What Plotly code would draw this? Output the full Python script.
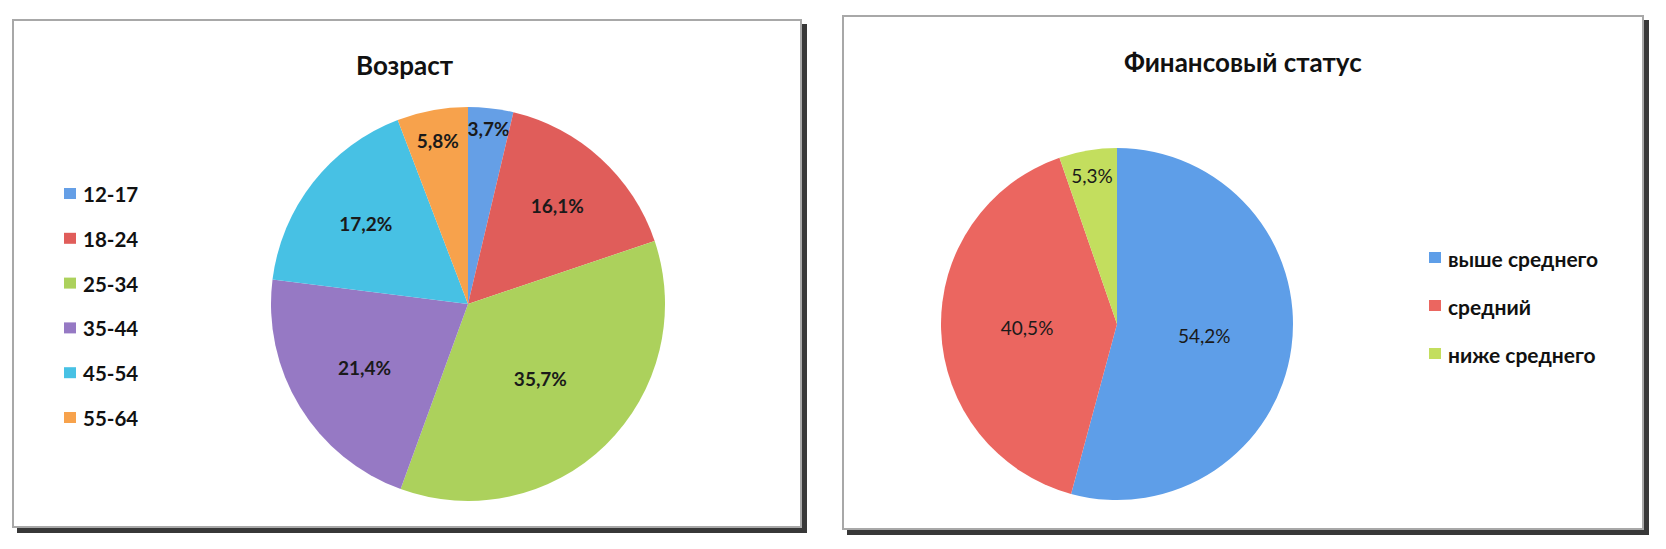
import plotly.graph_objects as go

W, H = 1666, 549
OFF = 8  # page body margin of the exported html
FW, FH = W - 2 * OFF, H - 2 * OFF

# ---------------- data ----------------
age_title = "Возраст"
age_labels = ["12-17", "18-24", "25-34", "35-44", "45-54", "55-64"]
age_values = [3.7, 16.1, 35.7, 21.4, 17.2, 5.8]
age_colors = ["#659fe6", "#e05d5a", "#acd15c", "#9679c4", "#47c1e4", "#f7a24c"]

fin_title = "Финансовый статус"
fin_labels = ["выше среднего", "средний", "ниже среднего"]
fin_values = [54.2, 40.5, 5.3]
fin_colors = ["#5e9ee8", "#eb6660", "#c3de5e"]

FONT = "Lato, 'Open Sans', sans-serif"


def px(x):
    return (x - OFF) / FW


def py(y):
    return 1 - (y - OFF) / FH


def pie_domain(cx, cy, r):
    return dict(x=[px(cx - r), px(cx + r)], y=[py(cy + r), py(cy - r)])


fig = go.Figure()

fig.add_trace(go.Pie(
    labels=age_labels, values=age_values, sort=False, direction="clockwise",
    rotation=0, marker=dict(colors=age_colors, line=dict(width=0)),
    texttemplate="%{value:.1f}%", textposition="inside",
    insidetextorientation="horizontal",
    textfont=dict(family=FONT, size=19, color="#1a1a1a", weight="bold"),
    domain=pie_domain(468, 304, 197), showlegend=False, hoverinfo="label+value",
))

fig.add_trace(go.Pie(
    labels=fin_labels, values=fin_values, sort=False, direction="clockwise",
    rotation=0, marker=dict(colors=fin_colors, line=dict(width=0)),
    texttemplate="%{value:.1f}%", textposition="inside",
    insidetextorientation="horizontal",
    textfont=dict(family=FONT, size=19, color="#1a1a1a"),
    domain=pie_domain(1117, 324, 176), showlegend=False, hoverinfo="label+value",
))

shapes = []
annotations = []

# panel frames with drop shadow
for (x0, y0, x1, y1) in [(13, 20, 801, 527), (843, 16, 1643, 529)]:
    shapes.append(dict(type="rect", xref="paper", yref="paper", layer="below",
                       x0=px(x0 + 4), x1=px(x1 + 6), y0=py(y1 + 6), y1=py(y0 + 4),
                       fillcolor="#383838", line=dict(width=0)))
    shapes.append(dict(type="rect", xref="paper", yref="paper", layer="below",
                       x0=px(x0), x1=px(x1), y0=py(y1), y1=py(y0),
                       fillcolor="white", line=dict(color="#a8a8a8", width=2)))

# titles
annotations.append(dict(text="<b>" + age_title + "</b>", x=px(405), y=py(65),
                        xref="paper", yref="paper", showarrow=False,
                        xanchor="center", yanchor="middle",
                        font=dict(family=FONT, size=26, color="#111")))
annotations.append(dict(text="<b>" + fin_title + "</b>", x=px(1243), y=py(62),
                        xref="paper", yref="paper", showarrow=False,
                        xanchor="center", yanchor="middle",
                        font=dict(family=FONT, size=26, color="#111")))


def legend(labels, colors, sq_x, txt_x, y_first, step, size):
    for i, (lab, col) in enumerate(zip(labels, colors)):
        yc = y_first + i * step
        shapes.append(dict(type="rect", xref="paper", yref="paper",
                           x0=px(sq_x), x1=px(sq_x + 12), y0=py(yc + 5), y1=py(yc - 6),
                           fillcolor=col, line=dict(width=0)))
        annotations.append(dict(text="<b>" + lab + "</b>", x=px(txt_x), y=py(yc),
                                xref="paper", yref="paper", showarrow=False,
                                xanchor="left", yanchor="middle",
                                font=dict(family=FONT, size=size, color="#111")))


legend(age_labels, age_colors, 64, 81, 194, 44.8, 20.5)
legend(fin_labels, fin_colors, 1429, 1446, 258, 48, 21)

fig.update_layout(
    width=FW, height=FH, margin=dict(l=0, r=0, t=0, b=0),
    paper_bgcolor="white", plot_bgcolor="white",
    separators=", ",
    uniformtext=dict(minsize=19, mode="show"),
    shapes=shapes, annotations=annotations,
)

fig.write_html("out.html")
